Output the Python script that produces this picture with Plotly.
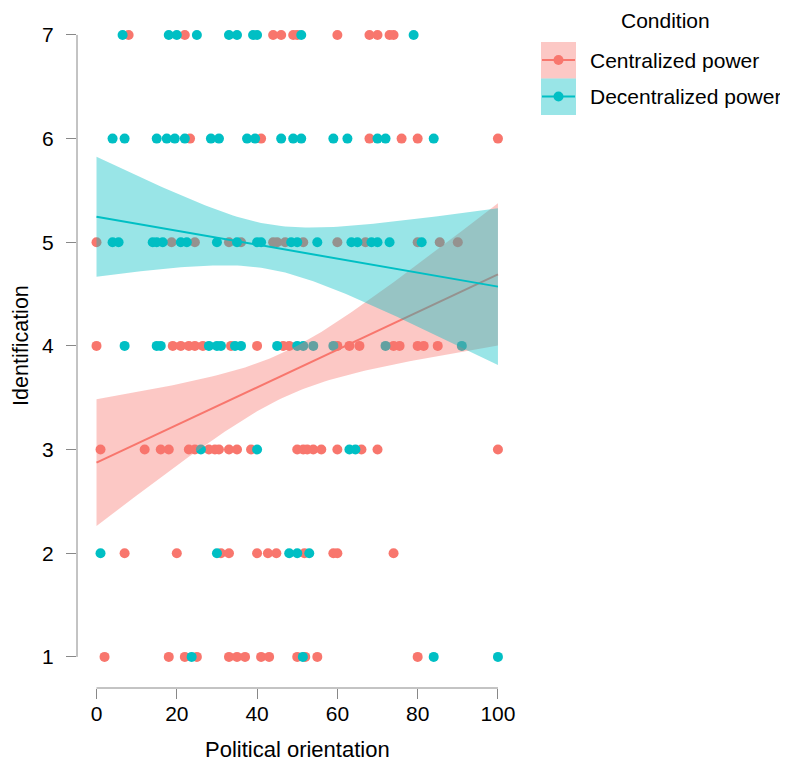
import numpy as np
import plotly.graph_objects as go

# ---- data ----
# Centralized power (red)
cent_x = [8, 22, 44, 46, 49, 50, 60, 68, 70, 73, 74,
          23.3, 41, 68, 76, 80, 100,
          0, 18.7, 24.5, 33, 36, 44, 45, 47, 51.5, 60, 67, 80, 85.5, 90,
          0, 19, 21, 23, 24.5, 26.5, 33.5, 40, 46.5, 48, 60, 63, 65.5, 74, 75.5, 80, 81.5, 85,
          1, 12, 16, 18, 23, 24.5, 28, 29.5, 30.5, 33, 35, 38.5, 50, 51.5, 52.5, 54, 56, 60, 66, 70, 100,
          7, 20, 31, 33, 40, 42.7, 44.8, 51.8, 59, 60, 74,
          2, 18, 22, 25, 33, 35, 37, 41, 43, 50, 52, 55, 80]
cent_y = [7] * 11 + [6] * 6 + [5] * 14 + [4] * 18 + [3] * 21 + [2] * 11 + [1] * 13

# Decentralized power (teal)
dec_x = [6.5, 18, 20, 25, 33, 35, 39, 40, 51, 79,
         4, 7, 15, 17.5, 19.5, 22, 28.5, 30.5, 37.5, 39.5, 46, 49, 51, 59, 62.5, 70, 72, 84,
         4, 5.5, 14, 15, 16.5, 21, 22.5, 30, 35, 40, 41, 48.5, 50, 55, 63.5, 65, 68.5, 70, 73, 81,
         7, 15, 16, 28, 30, 31, 34.5, 36, 45, 50, 51.5, 54, 59, 72, 91,
         26, 40, 63, 64.5,
         1, 30, 48, 50, 53,
         23.7, 51.4, 84, 100]
dec_y = [7] * 10 + [6] * 18 + [5] * 20 + [4] * 15 + [3] * 4 + [2] * 5 + [1] * 4

# Fitted regression lines: intercept, slope,
# and 95% CI half-widths at x = 0, 50, 100
cent_fit = dict(intercept=2.874, slope=0.01816, half_at=[0, 50, 100], half=[0.611, 0.22, 0.686])
dec_fit = dict(intercept=5.247, slope=-0.00675, half_at=[0, 50, 100], half=[0.579, 0.235, 0.756])
fit_range = [0, 100]

conditions = ["Centralized power", "Decentralized power"]
x_ticks = [0, 20, 40, 60, 80, 100]
y_ticks = [1, 2, 3, 4, 5, 6, 7]

RED = "#F8766D"
TEAL = "#00BFC4"
RED_FILL = "rgba(248,118,109,0.4)"
TEAL_FILL = "rgba(0,191,196,0.4)"
FONT = "Liberation Sans, Arial, sans-serif"


def band(fit, grid):
    # CI of a linear fit: half-width^2 is quadratic in x; solved from the three read widths
    x0, x1, x2 = fit["half_at"]
    h0, h1, h2 = [h ** 2 for h in fit["half"]]
    M = np.array([[1, x0, x0 ** 2], [1, x1, x1 ** 2], [1, x2, x2 ** 2]], float)
    c0, c1, c2 = np.linalg.solve(M, np.array([h0, h1, h2]))
    hh = np.sqrt(np.maximum(c0 + c1 * grid + c2 * grid ** 2, 0))
    yhat = fit["intercept"] + fit["slope"] * grid
    return yhat, yhat - hh, yhat + hh


fig = go.Figure()

fig.add_trace(go.Scatter(x=cent_x, y=cent_y, mode="markers",
                         marker=dict(color=RED, size=10), showlegend=False, hoverinfo="skip"))
fig.add_trace(go.Scatter(x=dec_x, y=dec_y, mode="markers",
                         marker=dict(color=TEAL, size=10), showlegend=False, hoverinfo="skip"))

g = np.linspace(fit_range[0], fit_range[1], 101)
for fit, col, fill in [(cent_fit, RED, RED_FILL), (dec_fit, TEAL, TEAL_FILL)]:
    yh, lo, hi = band(fit, g)
    fig.add_trace(go.Scatter(x=np.concatenate([g, g[::-1]]), y=np.concatenate([hi, lo[::-1]]),
                             fill="toself", fillcolor=fill, line=dict(width=0),
                             mode="lines", showlegend=False, hoverinfo="skip"))
    fig.add_trace(go.Scatter(x=g, y=yh, mode="lines", line=dict(color=col, width=2),
                             showlegend=False, hoverinfo="skip"))

# page body has an 8px margin: work in screen pixels, convert to figure pixels
O = 8
W, H = 788 - O, 765 - O
PW, PH = 437.0, 668.0
L = 77 - O          # plot left edge (screen x 77)
T = 20 - O          # plot top edge (screen y 20)
B = H - (688 - O)   # plot bottom edge at screen y 688

AX = "#888888"
fig.update_layout(
    width=W, height=H,
    margin=dict(l=L, r=W - L - int(PW), t=T, b=B, autoexpand=False),
    plot_bgcolor="white", paper_bgcolor="white",
    font=dict(family=FONT, size=21, color="black"),
    xaxis=dict(range=[-4.86, 104], tickvals=x_ticks, ticks="outside", ticklen=10,
               tickcolor=AX, tickwidth=1, showgrid=False, zeroline=False, showline=False,
               tickfont=dict(size=21), ticklabelstandoff=-3),
    yaxis=dict(range=[0.7, 7.144], tickvals=y_ticks, ticks="outside", ticklen=10,
               tickcolor=AX, tickwidth=1, showgrid=False, zeroline=False, showline=False,
               tickfont=dict(size=21), ticklabelstandoff=8),
)

# R-style axis lines spanning only the tick range
fig.add_shape(type="line", xref="paper", yref="y", x0=0, x1=0, y0=1, y1=7,
              line=dict(color=AX, width=1))
fig.add_shape(type="line", xref="x", yref="paper", x0=0, x1=100, y0=0, y1=0,
              line=dict(color=AX, width=1))


def px(xs):
    return (xs - O - L) / PW


def py(ys):
    return 1 - (ys - O - T) / PH


# axis titles
fig.add_annotation(text="Political orientation", x=50, xref="x", y=py(749), yref="paper",
                   showarrow=False, font=dict(size=22), yanchor="middle")
fig.add_annotation(text="Identification", textangle=-90, x=px(21), xref="paper",
                   y=4, yref="y", showarrow=False, font=dict(size=21.5), xanchor="center")

# manual legend
fig.add_annotation(text="Condition", x=px(665), y=py(20), xref="paper", yref="paper",
                   showarrow=False, xanchor="center", yanchor="middle", font=dict(size=21))
for i, (name, col, fill) in enumerate([(conditions[0], RED, RED_FILL), (conditions[1], TEAL, TEAL_FILL)]):
    top = 42 + i * 36.5
    cy = top + 18
    fig.add_shape(type="rect", xref="paper", yref="paper", x0=px(541), x1=px(576),
                  y0=py(top), y1=py(top + 36.5), line=dict(width=0), fillcolor=fill)
    fig.add_shape(type="line", xref="paper", yref="paper", x0=px(542), x1=px(575),
                  y0=py(cy), y1=py(cy), line=dict(color=col, width=2))
    fig.add_shape(type="circle", xref="paper", yref="paper", x0=px(553.5), x1=px(563.5),
                  y0=py(cy + 5), y1=py(cy - 5), line=dict(width=0), fillcolor=col)
    fig.add_annotation(text=name, x=px(588), y=py(cy), xref="paper", yref="paper",
                       showarrow=False, xanchor="left", yanchor="middle", font=dict(size=21))

fig.write_html("out.html")
